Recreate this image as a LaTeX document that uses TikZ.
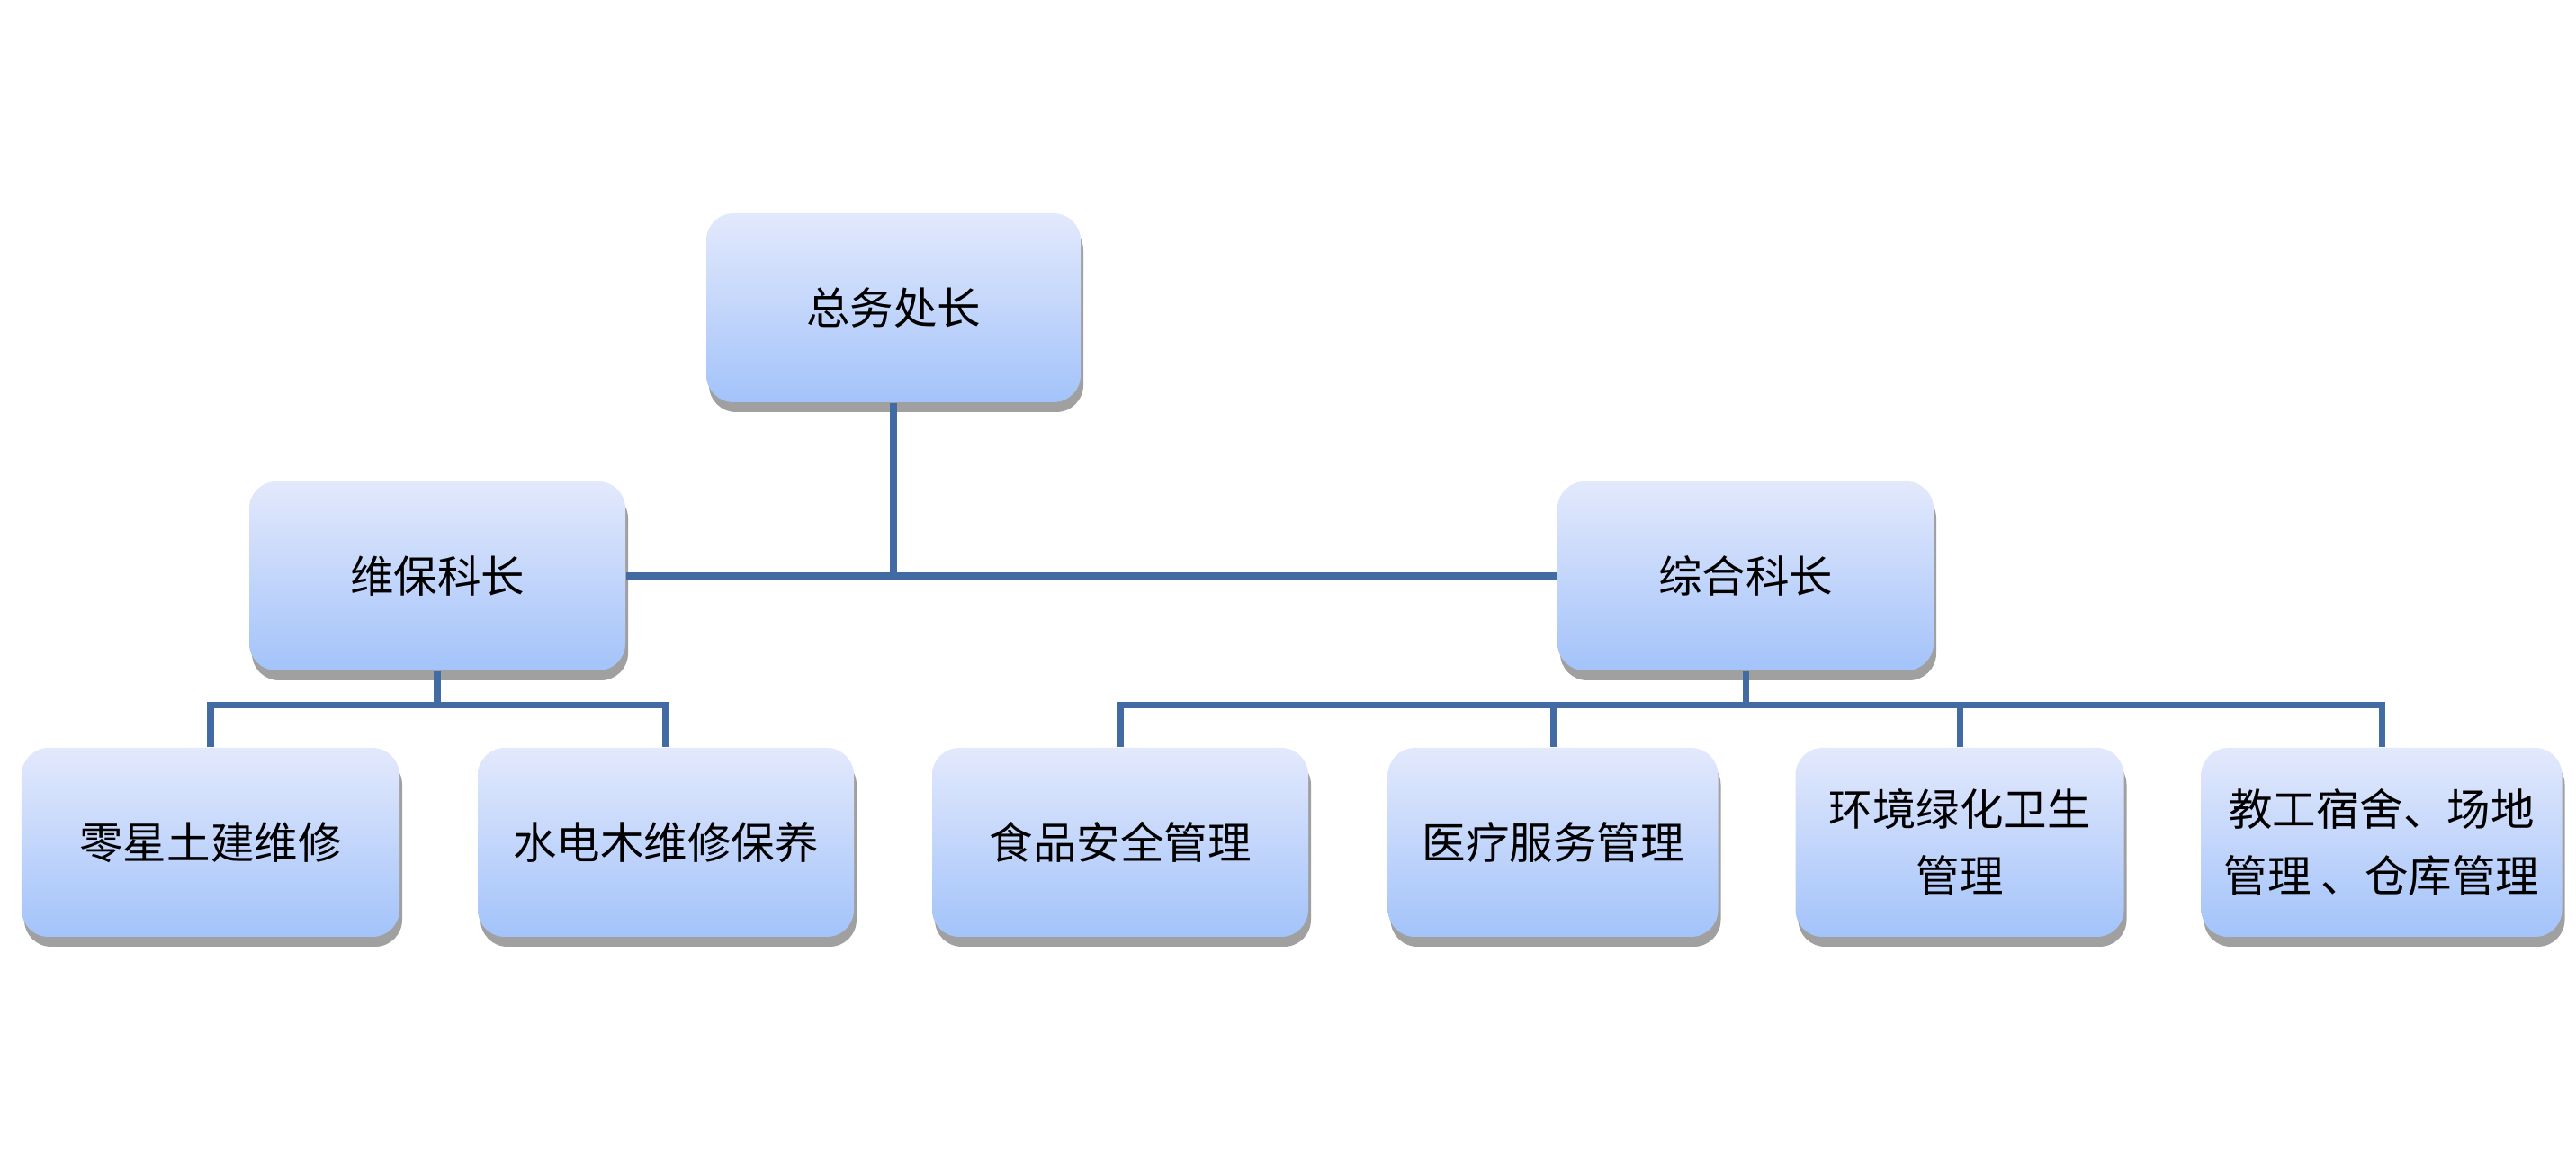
\documentclass[tikz,border=0pt]{standalone}
\usepackage{fontspec}
\setmainfont{Noto Sans CJK SC}
\usepackage{tikz}
\usetikzlibrary{positioning,calc,shadows}
\definecolor{boxtop}{RGB}{227,233,252}
\definecolor{boxbot}{RGB}{163,195,250}
\definecolor{linkblue}{RGB}{66,106,163}
\definecolor{shadowgray}{RGB}{160,160,160}
\tikzset{
  orgbox/.style={rounded corners=0.3cm,top color=boxtop,bottom color=boxbot,
    draw=none,minimum width=4.18cm,minimum height=2.1cm,align=center,
    font=\fontsize{13.8}{21.3}\selectfont,
    drop shadow={shadow xshift=0.03cm,shadow yshift=-0.11cm,fill=shadowgray,opacity=1}},
  link/.style={draw=linkblue,line width=2pt}
}

\begin{document}
\begin{tikzpicture}
\useasboundingbox (0,0) rectangle (28.63,12.79);
% boxes
\node[orgbox,minimum width=4.16cm] (T) at (9.93,9.37) {总务处长};
\node[orgbox] (W) at (4.86,6.39) {维保科长};
\node[orgbox] (C) at (19.40,6.39) {综合科长};
\node[orgbox,minimum width=4.2cm] (L1) at (2.34,3.43) {零星土建维修};
\node[orgbox] (L2) at (7.40,3.43) {水电木维修保养};
\node[orgbox] (R1) at (12.45,3.43) {食品安全管理};
\node[orgbox,minimum width=3.67cm] (R2) at (17.26,3.43) {医疗服务管理};
\node[orgbox,minimum width=3.65cm] (R3) at (21.78,3.43) {环境绿化卫生\\管理};
\node[orgbox,minimum width=4.01cm] (R4) at (26.47,3.43) {教工宿舍、场地\\管理 、仓库管理};
% connectors
\coordinate (wbus) at ($(W.south)+(0,-0.38)$);
\coordinate (cbus) at ($(C.south)+(0,-0.38)$);
\draw[link] (T.south) -- (T.south |- W.east);
\draw[link] (W.east) -- (C.west);
\draw[link] (W.south) -- (wbus);
\draw[link] (L1.north) |- (wbus) -| (L2.north);
\draw[link] (C.south) -- (cbus);
\draw[link] (R1.north) |- (cbus) -| (R4.north);
\draw[link] (R2.north) -- (R2.north |- cbus);
\draw[link] (R3.north) -- (R3.north |- cbus);
\end{tikzpicture}
\end{document}
